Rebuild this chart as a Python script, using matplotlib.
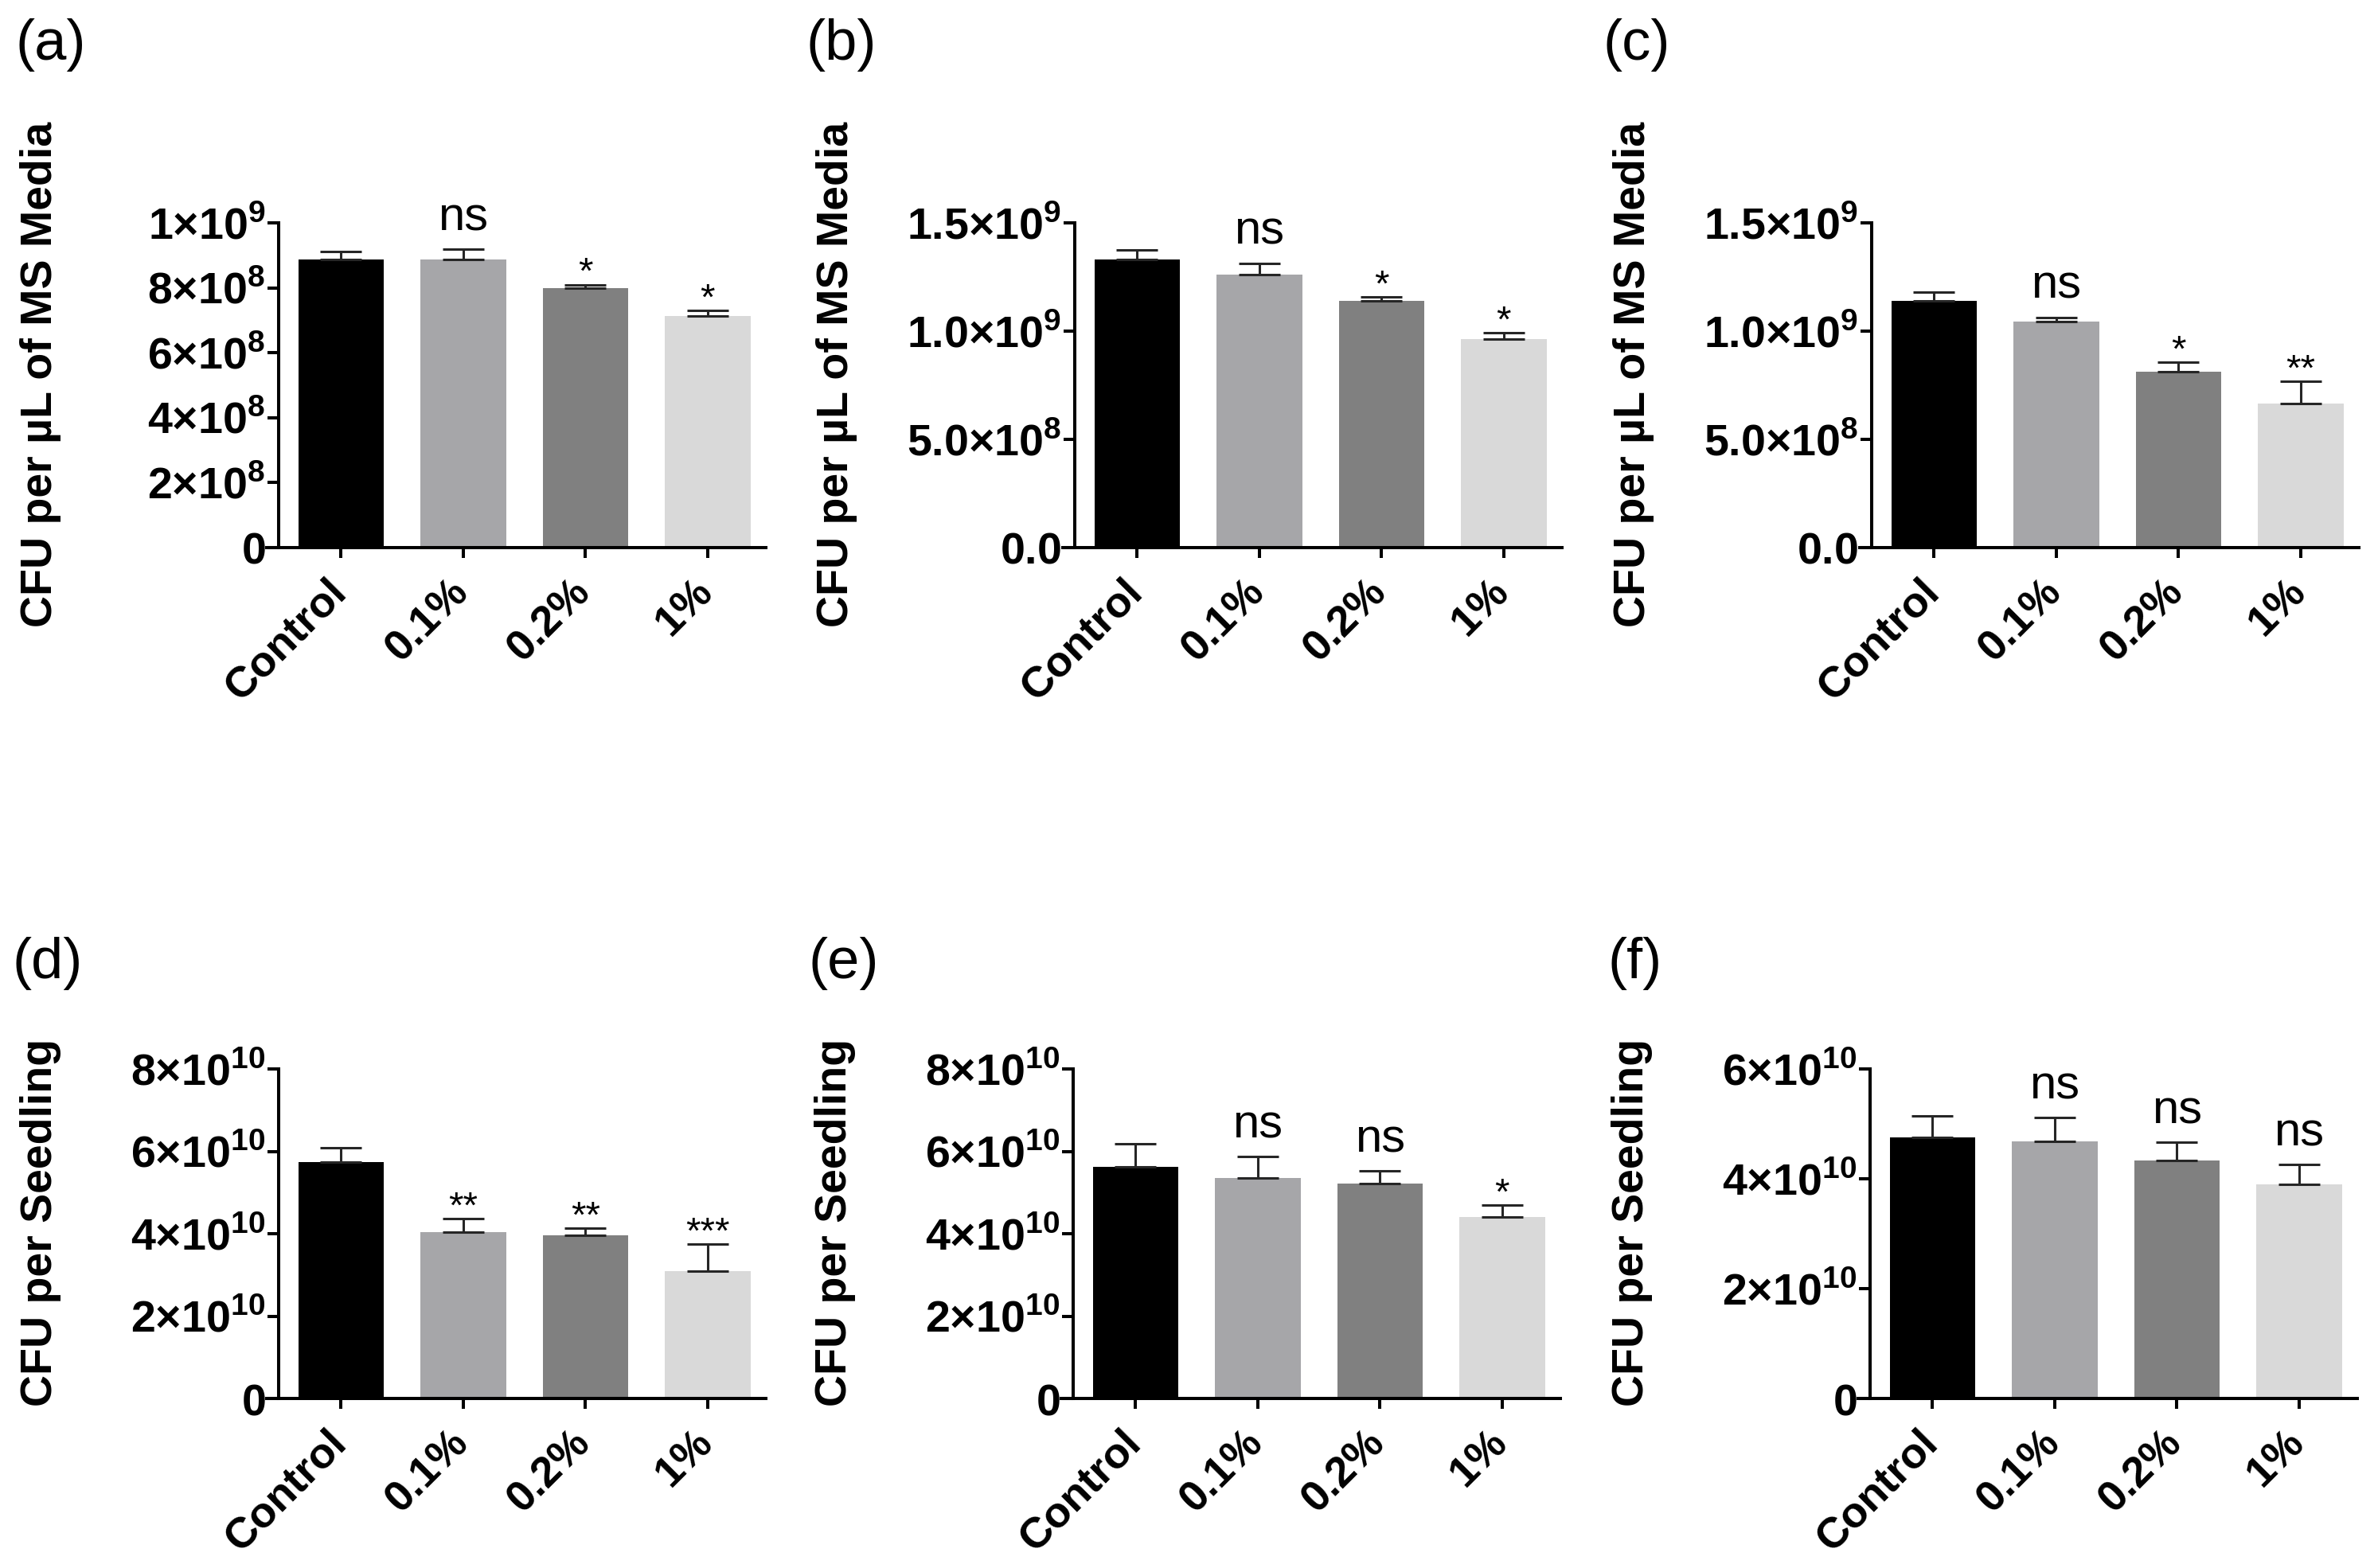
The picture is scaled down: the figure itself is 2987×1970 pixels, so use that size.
#!/usr/bin/env python3

# Import special modules ...
import matplotlib
matplotlib.use("Agg")
import matplotlib.pyplot

# Fonts ...
matplotlib.pyplot.rcParams["font.family"] = ["Liberation Sans", "DejaVu Sans"]
matplotlib.pyplot.rcParams["mathtext.fontset"] = "custom"
matplotlib.pyplot.rcParams["mathtext.rm"] = "Liberation Sans"
matplotlib.pyplot.rcParams["mathtext.bf"] = "Liberation Sans:bold"

# Data ...
groups = ["Control", "0.1%", "0.2%", "1%"]
barColours = ["#000000", "#a6a6a9", "#808080", "#d9d9d9"]

mean_a = [8.87e8, 8.88e8, 8.00e8, 7.13e8]
err_a = [2.5e7, 3.0e7, 1.0e7, 1.7e7]
sig_a = ["", "ns", "*", "*"]

mean_b = [1.331e9, 1.261e9, 1.139e9, 0.963e9]
err_b = [0.044e9, 0.053e9, 0.019e9, 0.028e9]
sig_b = ["", "ns", "*", "*"]

mean_c = [1.138e9, 1.045e9, 0.813e9, 0.666e9]
err_c = [0.042e9, 0.019e9, 0.042e9, 0.101e9]
sig_c = ["", "ns", "*", "**"]

mean_d = [5.74e10, 4.04e10, 3.96e10, 3.09e10]
err_d = [0.35e10, 0.33e10, 0.18e10, 0.66e10]
sig_d = ["", "**", "**", "***"]

mean_e = [5.62e10, 5.35e10, 5.22e10, 4.41e10]
err_e = [0.56e10, 0.52e10, 0.30e10, 0.29e10]
sig_e = ["", "ns", "ns", "*"]

mean_f = [4.75e10, 4.68e10, 4.34e10, 3.90e10]
err_f = [0.40e10, 0.43e10, 0.33e10, 0.36e10]
sig_f = ["", "ns", "ns", "ns"]

ticks_a = [0, 2e8, 4e8, 6e8, 8e8, 1e9]
labels_a = ["0", "2×10^8", "4×10^8", "6×10^8", "8×10^8", "1×10^9"]
ticks_bc = [0, 5e8, 1e9, 1.5e9]
labels_bc = ["0.0", "5.0×10^8", "1.0×10^9", "1.5×10^9"]
ticks_de = [0, 2e10, 4e10, 6e10, 8e10]
labels_de = ["0", "2×10^10", "4×10^10", "6×10^10", "8×10^10"]
ticks_f = [0, 2e10, 4e10, 6e10]
labels_f = ["0", "2×10^10", "4×10^10", "6×10^10"]

ylabel_top = "CFU per µL of MS Media"
ylabel_bottom = "CFU per Seedling"

# Figure geometry (pixels) ...
W, H = 2987, 1970
fg = matplotlib.pyplot.figure(figsize = (W / 100, H / 100), dpi = 100)


def tick_text(s):
    # Turn "2×10^8" into bold mathtext with a superscript ...
    if "^" not in s:
        return r"$\mathbf{" + s + "}$"
    base, power = s.split("^")
    return r"$\mathbf{" + base + r"}^{\mathbf{" + power + "}}$"


def draw_panel(letter, spineX, top, bottom, means, errs, sigs, ticks, labels, ylabel, letterPos):
    left = spineX - 15
    width = 627
    ax = fg.add_axes([left / W, 1 - bottom / H, width / W, (bottom - top) / H])
    xs = list(range(len(groups)))
    ax.bar(xs, means, width = 0.70, color = barColours, linewidth = 0, zorder = 2)
    ax.errorbar(xs, means, yerr = [[0] * len(errs), errs], fmt = "none", ecolor = "#262626",
                elinewidth = 2.2, capsize = 19, capthick = 2.2, zorder = 3)

    # Significance labels ...
    for x, m, e, s in zip(xs, means, errs, sigs):
        if s == "":
            continue
        if s == "ns":
            ax.annotate(s, (x, m + e), xytext = (0, 17), textcoords = "offset points",
                        ha = "center", va = "baseline", fontsize = 43)
        else:
            ax.annotate(s, (x, m + e), xytext = (0, 1), textcoords = "offset points",
                        ha = "center", va = "baseline", fontsize = 34)

    # Configure axis ...
    ax.set_xlim(-0.608, 3.477)
    ax.set_ylim(0, ticks[-1])
    ax.spines["top"].set_visible(False)
    ax.spines["right"].set_visible(False)
    ax.spines["left"].set_position(("data", -0.51))
    for sp in ["left", "bottom"]:
        ax.spines[sp].set_linewidth(2.9)
    ax.set_yticks(ticks)
    ax.set_yticklabels([tick_text(t) for t in labels], fontsize = 40)
    ax.set_xticks(xs)
    ax.set_xticklabels([])
    ax.tick_params(axis = "y", length = 10, width = 2.9, pad = 2)
    ax.tick_params(axis = "x", length = 9.5, width = 2.9)

    # Rotated category labels, nudged left like the original ...
    for x, g in zip(xs, groups):
        ax.annotate(g, (x, 0), xycoords = ("data", "axes fraction"), xytext = (-13.5, -21.5),
                    textcoords = "offset points", rotation = 45, rotation_mode = "anchor",
                    ha = "right", va = "top", fontsize = 39, fontweight = "bold",
                    annotation_clip = False)

    ax.set_ylabel(ylabel, fontsize = 40, fontweight = "bold")
    ax.yaxis.set_label_coords((spineX - 273) / W, 1 - ((top + bottom) / 2 - 14) / H,
                              transform = fg.transFigure)

    # Panel letter ...
    fg.text(letterPos[0] / W, 1 - letterPos[1] / H, f"({letter})", fontsize = 52,
            ha = "left", va = "top")
    return ax


draw_panel("a", 350, 280, 688, mean_a, err_a, sig_a, ticks_a, labels_a, ylabel_top, (19, 23))
draw_panel("b", 1350, 280, 688, mean_b, err_b, sig_b, ticks_bc, labels_bc, ylabel_top, (1013, 23))
draw_panel("c", 2351, 280, 688, mean_c, err_c, sig_c, ticks_bc, labels_bc, ylabel_top, (2014, 23))
draw_panel("d", 350, 1343, 1757, mean_d, err_d, sig_d, ticks_de, labels_de, ylabel_bottom, (15, 1177))
draw_panel("e", 1348, 1343, 1757, mean_e, err_e, sig_e, ticks_de, labels_de, ylabel_bottom, (1016, 1177))
draw_panel("f", 2349, 1343, 1757, mean_f, err_f, sig_f, ticks_f, labels_f, ylabel_bottom, (2019, 1177))

# Save figure ...
fg.savefig("out.png", dpi = 100)
matplotlib.pyplot.close(fg)
